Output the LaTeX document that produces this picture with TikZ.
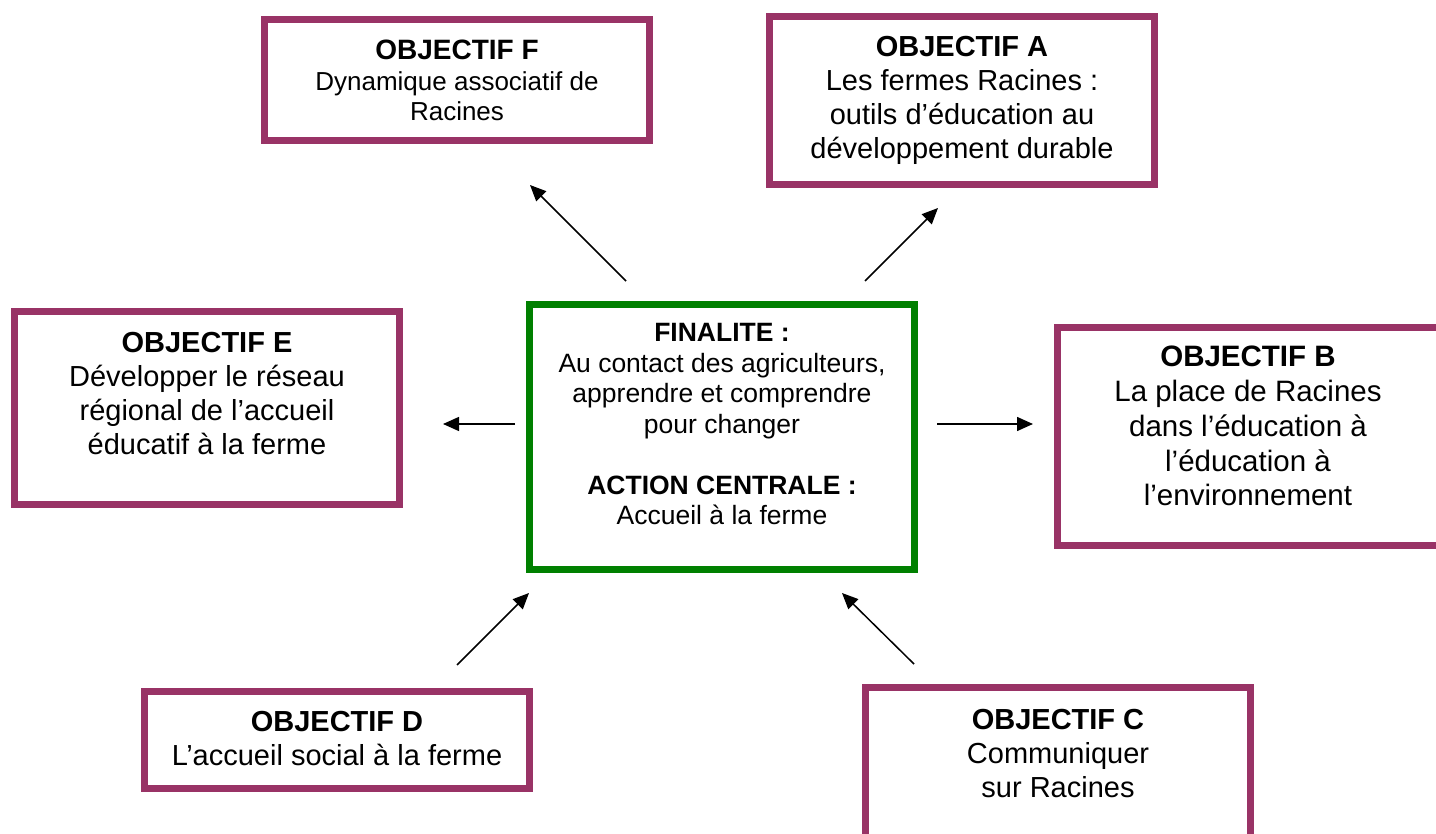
\documentclass[tikz,border=0pt]{standalone}
\usepackage{fontspec}
\setmainfont{Liberation Sans}
\usetikzlibrary{arrows.meta}
\definecolor{plum}{HTML}{993366}
\definecolor{vert}{HTML}{008000}
\begin{document}
\begin{tikzpicture}[x=1pt,y=-1pt,
 objbox/.style={draw=plum, line width=7pt, inner sep=0pt, rectangle},
 centralbox/.style={draw=vert, line width=7pt, inner sep=0pt, rectangle},
 txt/.style={anchor=base, inner sep=0pt, align=flush center, text width=380pt},
 big/.style={font=\fontsize{29}{34}\selectfont},
 arr/.style={line width=1.5pt, -{Triangle[length=16pt,width=14pt]}}]
\clip (0,0) rectangle (1436,834);
\useasboundingbox (0,0) rectangle (1436,834);

% boxes
\node[objbox, minimum width=385pt, minimum height=121pt] (F) at (457,80) {};
\node[objbox, minimum width=385pt, minimum height=168pt] (A) at (962,100.5) {};
\node[centralbox, minimum width=385pt, minimum height=265pt] (Z) at (722,437) {};
\node[objbox, minimum width=385pt, minimum height=218pt] (B) at (1250,436.5) {};
\node[objbox, minimum width=385pt, minimum height=193pt] (E) at (207,408) {};
\node[objbox, minimum width=385pt, minimum height=97pt] (D) at (337,740) {};
\node[objbox, minimum width=385pt, minimum height=153pt] (C) at (1058,764) {};

% texts
\node[txt, font=\fontsize{26}{30.5}\selectfont] (Ft) at (457,60)
 {{\fontsize{28}{30}\selectfont\bfseries OBJECTIF F}\\ Dynamique associatif de\\ Racines};
\node[txt, big] (At) at (962,57)
 {\textbf{OBJECTIF A}\\ Les fermes Racines :\\ outils d’éducation au\\ développement durable};
\node[txt, font=\fontsize{26.5}{30.5}\selectfont] (Zt) at (722,342)
 {\textbf{FINALITE :}\\ Au contact des agriculteurs,\\ apprendre et comprendre\\ pour changer\\[30.5pt]
 \textbf{ACTION CENTRALE :}\\ Accueil à la ferme};
\node[txt, font=\fontsize{29.5}{34.7}\selectfont] (Bt) at (1248,367)
 {\textbf{OBJECTIF B}\\ La place de Racines\\ dans l’éducation à\\ l’éducation à\\ l’environnement};
\node[txt, big] (Et) at (207,353)
 {\textbf{OBJECTIF E}\\ Développer le réseau\\ régional de l’accueil\\ éducatif à la ferme};
\node[txt, big] (Dt) at (337,731)
 {\textbf{OBJECTIF D}\\ L’accueil social à la ferme};
\node[txt, big] (Ct) at (1058,729)
 {\textbf{OBJECTIF C}\\ Communiquer\\ sur Racines};

% arrow end points
\coordinate (fs) at (626,281); \coordinate (fe) at (530,185);
\coordinate (as) at (865,281); \coordinate (ae) at (938,208);
\coordinate (es) at (515,424); \coordinate (ee) at (443,424);
\coordinate (bs) at (937,424); \coordinate (be) at (1033,424);
\coordinate (ds) at (457,665); \coordinate (de) at (529,593);
\coordinate (cs) at (914,664); \coordinate (ce) at (842,593);

\draw[arr] (fs) -- (fe);
\draw[arr] (as) -- (ae);
\draw[arr] (es) -- (ee);
\draw[arr] (bs) -- (be);
\draw[arr] (ds) -- (de);
\draw[arr] (cs) -- (ce);
\end{tikzpicture}
\end{document}
